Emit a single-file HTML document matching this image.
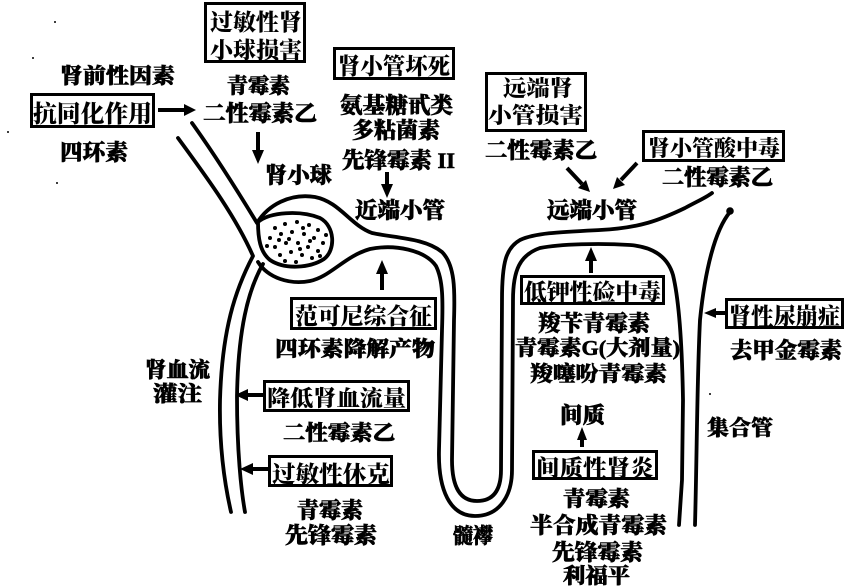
<!DOCTYPE html>
<html><head><meta charset="utf-8"><style>
html,body{margin:0;padding:0;background:#fff;}
svg{display:block;}
text{font-family:"Liberation Serif","Noto Serif CJK SC","Noto Sans CJK SC",serif;font-weight:900;fill:#000;}
text.h{stroke:#000;stroke-width:0.6;}
.ln{fill:none;stroke:#000;stroke-width:3.8;stroke-linecap:round;stroke-linejoin:round;}
.bx{fill:none;stroke:#000;stroke-width:3;}
.ar{stroke:#000;stroke-width:4;}
</style></head><body>
<svg width="845" height="586" viewBox="0 0 845 586" xmlns="http://www.w3.org/2000/svg">
<rect width="845" height="586" fill="#fff"/>

<!-- tubules / vessels -->
<path class="ln" d="M178,138 C205,175 235,215 253,256 C235,290 222,330 220,400 C219,450 226,490 231,512"/>
<path class="ln" d="M263,264 C248,290 238,330 237,397 C237,450 241,490 245,512"/>
<path class="ln" d="M192,123 C215,155 240,195 257,223 C268,205 290,193 315,197 C340,202 350,225 372,233 C395,238 425,238 442,252 C455,265 455,290 454,320 L452,460 C452,490 462,501 477,501 C495,501 501,488 501,470 L502,300 C502,262 506,248 520,240 C535,233 560,232 600,230 C640,228 660,220 685,208 C700,200 707,197 712,193"/>
<path class="ln" d="M258,262 C268,278 290,285 310,281 C330,277 345,256 370,249 C395,244 425,250 436,266 C443,280 443,300 442,330 L439,450 C438,490 450,516 475,516 C500,516 512,495 512,470 L513,300 C513,270 520,255 540,248 C560,244 600,243 630,245 C655,247 668,258 673,275 C679,300 682,340 683,400 L682,480 L679,525"/>
<path class="ln" d="M730,212 C715,230 705,270 700,320 C697,380 697,450 695,525"/>
<circle cx="730" cy="211" r="3.8" fill="#000"/>

<!-- glomerulus -->
<path class="ln" fill="#fff" d="M258,222 C270,212 300,210 320,218 C335,226 336,250 324,259 C310,268 285,270 270,260 C260,252 258,238 258,222 Z"/>
<g fill="#000">
<circle cx="275" cy="228" r="2"/><circle cx="285" cy="224" r="2"/><circle cx="297" cy="222" r="2"/><circle cx="309" cy="225" r="2"/><circle cx="318" cy="230" r="2"/>
<circle cx="270" cy="238" r="2"/><circle cx="281" cy="234" r="2"/><circle cx="292" cy="232" r="2"/><circle cx="304" cy="234" r="2"/><circle cx="314" cy="238" r="2"/>
<circle cx="323" cy="243" r="2"/><circle cx="275" cy="247" r="2"/><circle cx="286" cy="243" r="2"/><circle cx="298" cy="243" r="2"/><circle cx="308" cy="247" r="2"/>
<circle cx="318" cy="251" r="2"/><circle cx="280" cy="255" r="2"/><circle cx="291" cy="252" r="2"/><circle cx="302" cy="255" r="2"/><circle cx="312" cy="258" r="2"/>
<circle cx="296" cy="262" r="2"/><circle cx="285" cy="261" r="2"/><circle cx="267" cy="246" r="2"/><circle cx="326" cy="235" r="2"/><circle cx="303" cy="228" r="2"/>
<circle cx="289" cy="239" r="2"/><circle cx="310" cy="241" r="2"/><circle cx="279" cy="240" r="2"/><circle cx="300" cy="249" r="2"/><circle cx="320" cy="256" r="2"/>
</g>

<!-- boxes -->
<rect class="bx" x="205.5" y="3.5" width="99" height="58"/>
<rect class="bx" x="31.5" y="94.5" width="122" height="32"/>
<rect class="bx" x="334.5" y="48.5" width="119" height="30"/>
<rect class="bx" x="486.5" y="73.5" width="99" height="57"/>
<rect class="bx" x="643.5" y="131.5" width="140" height="29"/>
<rect class="bx" x="291.5" y="298.5" width="144" height="30"/>
<rect class="bx" x="264.5" y="381.5" width="144" height="29"/>
<rect class="bx" x="269.5" y="456.5" width="122" height="29"/>
<rect class="bx" x="521.5" y="276.5" width="142" height="27"/>
<rect class="bx" x="533.5" y="451.5" width="123" height="27"/>
<rect class="bx" x="726.5" y="299.5" width="116" height="28"/>

<!-- arrows -->
<line class="ar" x1="158" y1="110" x2="186" y2="110"/><polygon points="184,104 196,110 184,116"/>
<line class="ar" x1="258" y1="132" x2="258" y2="152"/><polygon points="252,150 258,164 264,150"/>
<line class="ar" x1="387" y1="172" x2="387" y2="186"/><polygon points="381,184 387,198 393,184"/>
<line class="ar" x1="567" y1="168" x2="582" y2="184"/><polygon points="590,192 578,188 586,180"/>
<line class="ar" x1="637" y1="163" x2="621" y2="180"/><polygon points="613,189 625,185 617,177"/>
<line class="ar" x1="382" y1="290" x2="382" y2="272"/><polygon points="376,274 382,260 388,274"/>
<line class="ar" x1="591" y1="273" x2="591" y2="258"/><polygon points="585,261 591,247 597,261"/>
<line class="ar" x1="582" y1="447" x2="582" y2="437"/><polygon points="577,440 582,427 587,440"/>
<line class="ar" x1="263" y1="395" x2="245" y2="395"/><polygon points="248,389 235,395 248,401"/>
<line class="ar" x1="268" y1="469" x2="250" y2="469"/><polygon points="253,463 240,469 253,475"/>
<line class="ar" x1="725" y1="313" x2="713" y2="313"/><polygon points="716,308 704,313 716,318"/>

<!-- text -->
<text x="210" y="30" font-size="23" textLength="92" lengthAdjust="spacingAndGlyphs">过敏性肾</text>
<text x="210" y="58" font-size="23" textLength="92" lengthAdjust="spacingAndGlyphs">小球损害</text>
<text class="h" x="60" y="83" font-size="21" textLength="115" lengthAdjust="spacingAndGlyphs">肾前性因素</text>
<text x="33" y="122" font-size="24" textLength="119" lengthAdjust="spacingAndGlyphs">抗同化作用</text>
<text class="h" x="60" y="160" font-size="22" textLength="68" lengthAdjust="spacingAndGlyphs">四环素</text>
<text class="h" x="227" y="93" font-size="21" textLength="63" lengthAdjust="spacingAndGlyphs">青霉素</text>
<text class="h" x="203" y="121" font-size="22" textLength="114" lengthAdjust="spacingAndGlyphs">二性霉素乙</text>
<text class="h" x="265" y="183" font-size="22" textLength="67" lengthAdjust="spacingAndGlyphs">肾小球</text>
<text x="338" y="74" font-size="23" textLength="112" lengthAdjust="spacingAndGlyphs">肾小管坏死</text>
<text class="h" x="340" y="113" font-size="22" textLength="113" lengthAdjust="spacingAndGlyphs">氨基糖甙类</text>
<text class="h" x="352" y="138" font-size="22" textLength="88" lengthAdjust="spacingAndGlyphs">多粘菌素</text>
<text class="h" x="342" y="168" font-size="22" textLength="113" lengthAdjust="spacingAndGlyphs">先锋霉素 II</text>
<text class="h" x="355" y="218" font-size="22" textLength="90" lengthAdjust="spacingAndGlyphs">近端小管</text>
<text x="503" y="96" font-size="22" textLength="70" lengthAdjust="spacingAndGlyphs">远端肾</text>
<text x="488" y="123" font-size="22" textLength="95" lengthAdjust="spacingAndGlyphs">小管损害</text>
<text class="h" x="485" y="158" font-size="22" textLength="112" lengthAdjust="spacingAndGlyphs">二性霉素乙</text>
<text class="h" x="547" y="218" font-size="22" textLength="90" lengthAdjust="spacingAndGlyphs">远端小管</text>
<text x="648" y="156" font-size="22" textLength="132" lengthAdjust="spacingAndGlyphs">肾小管酸中毒</text>
<text class="h" x="662" y="185" font-size="22" textLength="111" lengthAdjust="spacingAndGlyphs">二性霉素乙</text>
<text x="295" y="324" font-size="23" textLength="137" lengthAdjust="spacingAndGlyphs">范可尼综合征</text>
<text class="h" x="275" y="356" font-size="21" textLength="160" lengthAdjust="spacingAndGlyphs">四环素降解产物</text>
<text class="h" x="145" y="377" font-size="21" textLength="65" lengthAdjust="spacingAndGlyphs">肾血流</text>
<text class="h" x="153" y="401" font-size="21" textLength="49" lengthAdjust="spacingAndGlyphs">灌注</text>
<text x="267" y="406" font-size="22" textLength="139" lengthAdjust="spacingAndGlyphs">降低肾血流量</text>
<text class="h" x="283" y="440" font-size="21" textLength="112" lengthAdjust="spacingAndGlyphs">二性霉素乙</text>
<text x="272" y="482" font-size="23" textLength="118" lengthAdjust="spacingAndGlyphs">过敏性休克</text>
<text class="h" x="297" y="518" font-size="22" textLength="66" lengthAdjust="spacingAndGlyphs">青霉素</text>
<text class="h" x="285" y="543" font-size="22" textLength="92" lengthAdjust="spacingAndGlyphs">先锋霉素</text>
<text x="524" y="300" font-size="23" textLength="137" lengthAdjust="spacingAndGlyphs">低钾性硷中毒</text>
<text class="h" x="538" y="331" font-size="22" textLength="112" lengthAdjust="spacingAndGlyphs">羧苄青霉素</text>
<text class="h" x="515" y="355" font-size="21" textLength="165" lengthAdjust="spacingAndGlyphs">青霉素G(大剂量)</text>
<text class="h" x="530" y="381" font-size="21" textLength="137" lengthAdjust="spacingAndGlyphs">羧噻吩青霉素</text>
<text class="h" x="560" y="423" font-size="22" textLength="45" lengthAdjust="spacingAndGlyphs">间质</text>
<text x="536" y="476" font-size="23" textLength="118" lengthAdjust="spacingAndGlyphs">间质性肾炎</text>
<text class="h" x="563" y="506" font-size="21" textLength="67" lengthAdjust="spacingAndGlyphs">青霉素</text>
<text class="h" x="530" y="533" font-size="22" textLength="137" lengthAdjust="spacingAndGlyphs">半合成青霉素</text>
<text class="h" x="552" y="560" font-size="22" textLength="91" lengthAdjust="spacingAndGlyphs">先锋霉素</text>
<text class="h" x="563" y="583" font-size="21" textLength="67" lengthAdjust="spacingAndGlyphs">利福平</text>
<text class="h" x="453" y="543" font-size="21" textLength="40" lengthAdjust="spacingAndGlyphs">髓襻</text>
<text class="h" x="707" y="435" font-size="21" textLength="66" lengthAdjust="spacingAndGlyphs">集合管</text>
<text x="729" y="324" font-size="23" textLength="111" lengthAdjust="spacingAndGlyphs">肾性尿崩症</text>
<text class="h" x="730" y="358" font-size="22" textLength="112" lengthAdjust="spacingAndGlyphs">去甲金霉素</text>

<!-- speckles -->
<g fill="#000">
<circle cx="55" cy="22" r="1"/><circle cx="33" cy="58" r="1"/><circle cx="8" cy="132" r="1"/><circle cx="57" cy="183" r="1"/><circle cx="710" cy="394" r="1"/>
</g>
</svg>
</body></html>
